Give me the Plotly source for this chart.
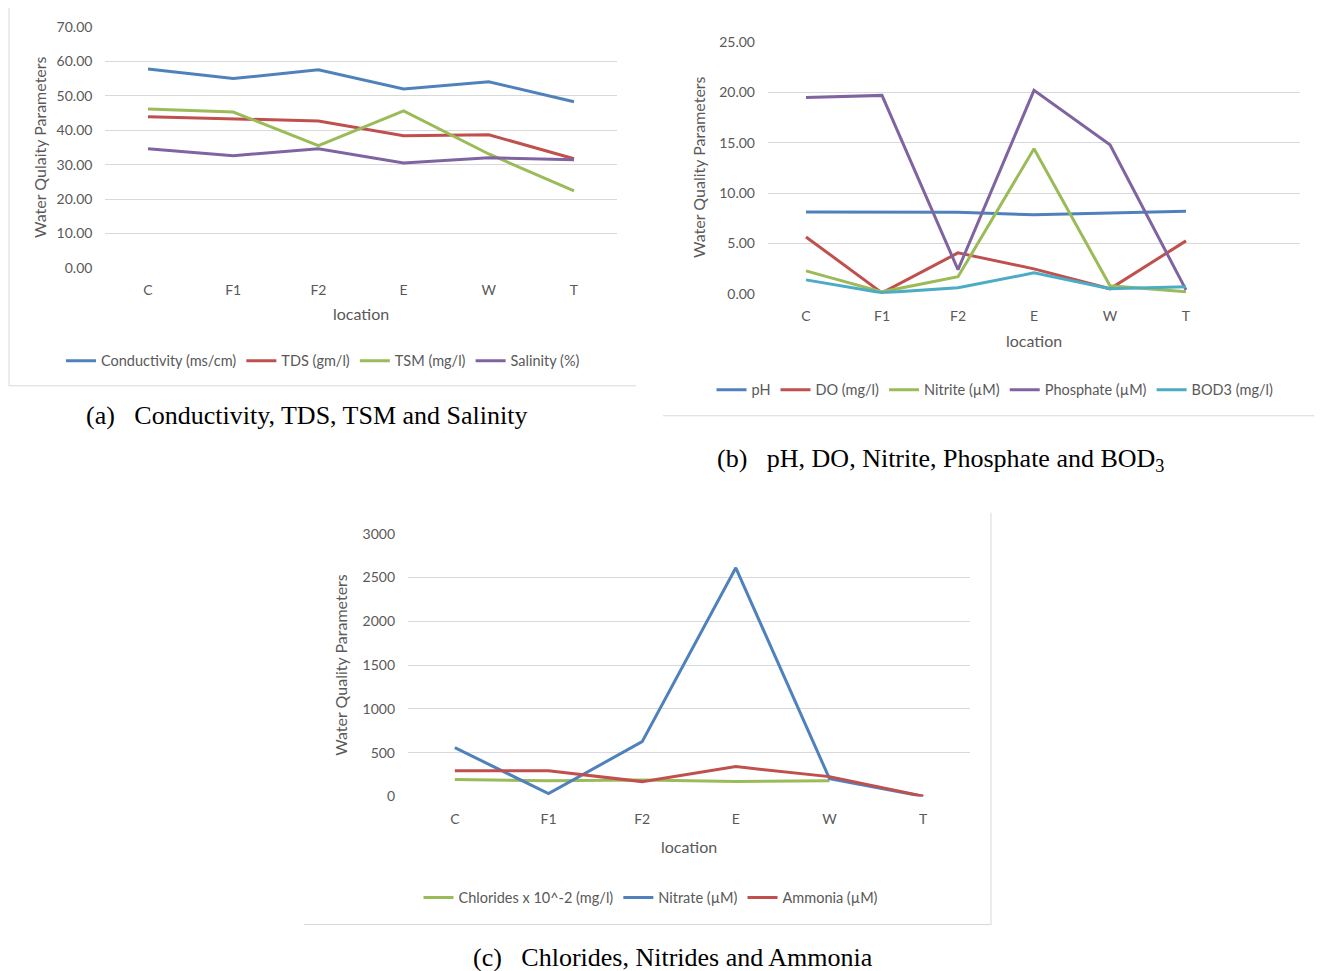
import plotly.graph_objects as go

# calibration of figure pixels to the photographed page
XOFF, YOFF, YSCALE = 8, 16, 0.983
W, H = 1322 - XOFF, 971

locations = ["C", "F1", "F2", "E", "W", "T"]

# (a)
conductivity = [57.8, 55.0, 57.6, 52.0, 54.1, 48.3]
tds = [43.9, 43.3, 42.7, 38.4, 38.7, 31.7]
tsm = [46.2, 45.3, 35.5, 45.6, 33.1, 22.4]
salinity = [34.6, 32.6, 34.6, 30.5, 32.0, 31.4]

# (b)
ph = [8.13, 8.13, 8.10, 7.84, 8.00, 8.20]
do = [5.65, 0.10, 4.07, 2.48, 0.50, 5.26]
nitrite = [2.28, 0.20, 1.70, 14.4, 0.80, 0.20]
phosphate = [19.5, 19.7, 2.40, 20.2, 14.8, 0.40]
bod3 = [1.39, 0.10, 0.60, 2.08, 0.50, 0.70]

# (c)
chlorides = [194, 182, 190, 171, 182, None]
nitrate = [559, 34, 627, 2611, 205, 3]
ammonia = [296, 296, 171, 342, 228, 5]

BLUE, RED, GREEN, PURPLE, AQUA = "#4F81BD", "#C0504D", "#9BBB59", "#8064A2", "#4BACC6"
GRID = "#D9D9D9"
TXT = "#595959"
FONT = "Lato"


def px(x):
    return (x - XOFF) / W


def py(y):
    return 1 - ((y - YOFF) / YSCALE) / H


fig = go.Figure()


def add(name, y, color, xa, ya, leg):
    fig.add_trace(go.Scatter(x=locations, y=y, name=name, mode="lines",
                             line=dict(color=color, width=3),
                             xaxis=xa, yaxis=ya, legend=leg,
                             connectgaps=False))


add("Conductivity (ms/cm)", conductivity, BLUE, "x", "y", "legend")
add("TDS (gm/l)", tds, RED, "x", "y", "legend")
add("TSM (mg/l)", tsm, GREEN, "x", "y", "legend")
add("Salinity (%)", salinity, PURPLE, "x", "y", "legend")

add("pH", ph, BLUE, "x2", "y2", "legend2")
add("DO (mg/l)", do, RED, "x2", "y2", "legend2")
add("Nitrite (µM)", nitrite, GREEN, "x2", "y2", "legend2")
add("Phosphate (µM)", phosphate, PURPLE, "x2", "y2", "legend2")
add("BOD3 (mg/l)", bod3, AQUA, "x2", "y2", "legend2")

add("Chlorides x 10^-2 (mg/l)", chlorides, GREEN, "x3", "y3", "legend3")
add("Nitrate (µM)", nitrate, BLUE, "x3", "y3", "legend3")
add("Ammonia (µM)", ammonia, RED, "x3", "y3", "legend3")

tickfont = dict(family=FONT, size=14, color=TXT)


def xaxis(domain, rng, anchor):
    return dict(domain=domain, type="category", range=rng, showgrid=False,
                showline=False, zeroline=False, ticks="", tickfont=tickfont,
                ticklabelstandoff=12, anchor=anchor, fixedrange=True)


def yaxis(domain, rng, dtick, fmt, anchor):
    return dict(domain=domain, range=rng, dtick=dtick, tickformat=fmt,
                showgrid=True, gridcolor=GRID, gridwidth=1, zeroline=False,
                showline=False, ticks="", tickfont=tickfont,
                ticklabelstandoff=12, anchor=anchor, fixedrange=True)


fig.update_layout(
    width=W, height=H, margin=dict(l=0, r=0, t=0, b=0),
    paper_bgcolor="white", plot_bgcolor="white",
    font=dict(family=FONT, color=TXT),
    xaxis=xaxis([px(105.4), px(616.6)], [-0.5, 5.5], "y"),
    yaxis=yaxis([py(267), py(26)], [0, 70], 10, ".2f", "x"),
    xaxis2=xaxis([px(768), px(1300)], [-0.5, 6.5], "y2"),
    yaxis2=yaxis([py(293), py(41)], [0, 25], 5, ".2f", "x2"),
    xaxis3=xaxis([px(408), px(970)], [-0.5, 5.5], "y3"),
    yaxis3=yaxis([py(796), py(533)], [0, 3000], 500, "d", "x3"),
)

legfont = dict(family=FONT, size=14.5, color=TXT)
for key, cx, cy in [("legend", 323, 360), ("legend2", 995, 389), ("legend3", 651, 897)]:
    fig.update_layout({key: dict(orientation="h", x=px(cx), y=py(cy),
                                 xanchor="center", yanchor="middle",
                                 font=legfont, bgcolor="rgba(0,0,0,0)",
                                 itemwidth=30, tracegroupgap=0)})

# visible chart-frame edges
for x0, y0, x1, y1 in [(9, 4, 9, 385), (9, 385, 636, 385),
                       (1319, 20, 1319, 415), (663, 415, 1319, 415),
                       (991, 512, 991, 924), (304, 924, 991, 924)]:
    fig.add_shape(type="line", xref="paper", yref="paper",
                  x0=px(x0), x1=px(x1), y0=py(y0), y1=py(y1),
                  line=dict(color=GRID, width=1), layer="below")

ann = []
# axis titles
for text, x, y in [("Water Qulaity Parameters", 40, 146), ("Water Quality Parameters", 699, 166),
                   ("Water Quality Parameters", 341, 664)]:
    ann.append(dict(text=text, x=px(x), y=py(y), xref="paper", yref="paper", showarrow=False,
                    textangle=-90, font=dict(family=FONT, size=16, color=TXT),
                    xanchor="center", yanchor="middle"))
for x, y in [(361, 313), (1034, 340), (689, 846)]:
    ann.append(dict(text="location", x=px(x), y=py(y), xref="paper", yref="paper", showarrow=False,
                    font=dict(family=FONT, size=16, color=TXT), xanchor="center", yanchor="middle"))
# captions
nb = "\u00a0\u00a0\u00a0"
for text, x, y in [("(a)" + nb + "Conductivity, TDS, TSM and Salinity", 307, 415),
                   ("(b)" + nb + "pH, DO, Nitrite, Phosphate and BOD<sub>3</sub>", 940, 459),
                   ("(c)" + nb + "Chlorides, Nitrides and Ammonia", 673, 957)]:
    ann.append(dict(text=text, x=px(x), y=py(y), xref="paper", yref="paper", showarrow=False,
                    font=dict(family="Liberation Serif", size=26, color="black"),
                    xanchor="center", yanchor="middle"))
fig.update_layout(annotations=ann)

fig.write_html("out.html")
